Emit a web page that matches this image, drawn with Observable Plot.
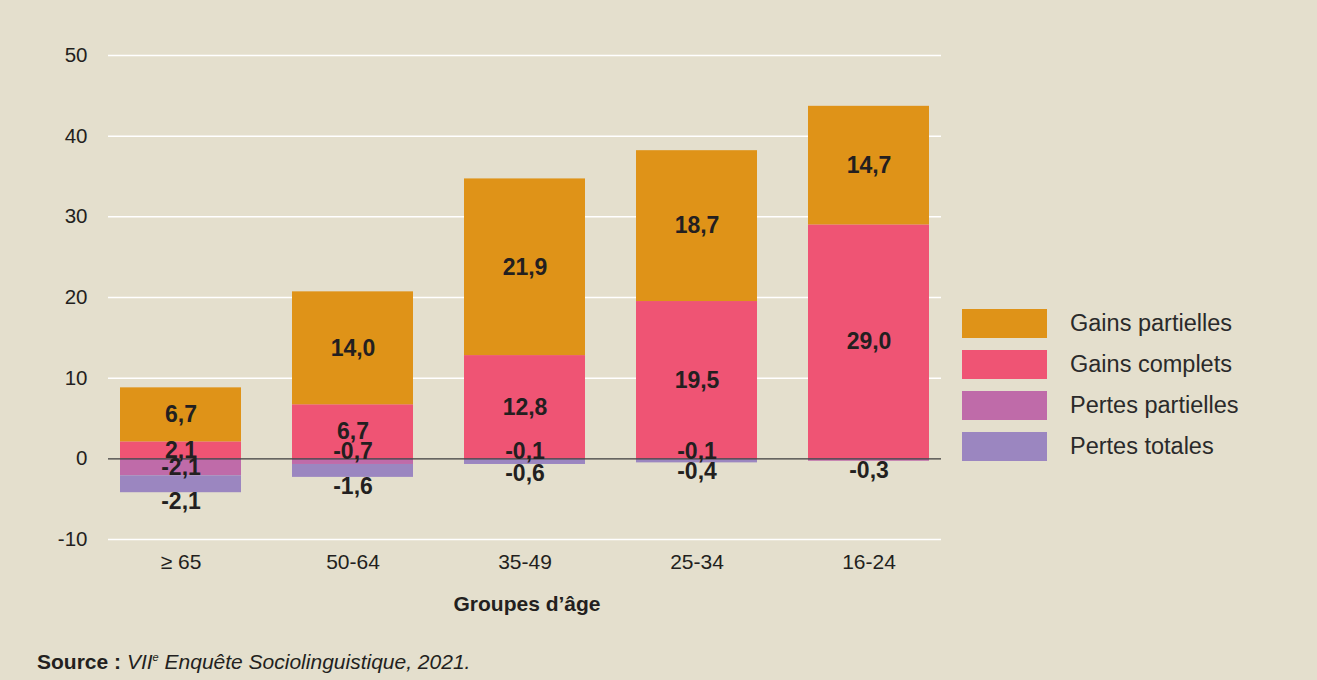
<!DOCTYPE html>
<html>
<head>
<meta charset="utf-8">
<script src="https://cdn.jsdelivr.net/npm/d3@7"></script>
<script src="https://cdn.jsdelivr.net/npm/@observablehq/plot@0.6"></script>
<style>
  html, body { margin: 0; padding: 0; background: #e4dfcd; }
  body { width: 1317px; height: 680px; position: relative; overflow: hidden; font-family: "Liberation Sans", Arial, sans-serif; color: #231f20; }
  #chart { position: absolute; left: 0; top: 0; }
  #legend { position: absolute; left: 962px; top: 309px; }
  .row { display: flex; align-items: center; height: 29px; margin-bottom: 12px; }
  .sw { width: 85px; height: 29px; }
  .lab { margin-left: 23px; font-size: 23.5px; color: #2a2a2a; white-space: nowrap; }
  #source { position: absolute; left: 37px; top: 650px; font-size: 21px; white-space: nowrap; color: #231f20; }
  #source sup { font-size: 11px; vertical-align: 8px; }
</style>
</head>
<body>
<div id="chart"></div>
<div id="legend"></div>
<div id="source"><b>Source :</b> <i>VII<sup>e</sup> Enquête Sociolinguistique, 2021.</i></div>
<script>
const groups = ["≥ 65", "50-64", "35-49", "25-34", "16-24"];
const gainsPartielles = [6.7, 14.0, 21.9, 18.7, 14.7];
const gainsComplets = [2.1, 6.7, 12.8, 19.5, 29.0];
const pertesPartielles = [-2.1, -0.7, -0.1, -0.1, -0.3];
const pertesTotales = [-2.1, -1.6, -0.6, -0.4, 0];
const yTicks = [-10, 0, 10, 20, 30, 40, 50];

const seriesNames = ["Gains partielles", "Gains complets", "Pertes partielles", "Pertes totales"];
const seriesColors = ["#df9318", "#ef5474", "#bf6ba9", "#9b86c0"];
const stackOrder = ["Gains complets", "Gains partielles", "Pertes partielles", "Pertes totales"];

const seriesValues = {
  "Gains partielles": gainsPartielles,
  "Gains complets": gainsComplets,
  "Pertes partielles": pertesPartielles,
  "Pertes totales": pertesTotales
};

const long = [];
groups.forEach((g, i) => {
  stackOrder.forEach(s => long.push({group: g, series: s, value: seriesValues[s][i]}));
});

const fmt = v => v.toFixed(1).replace(".", ",");

const centerLabels = [], aboveZero = [], belowStack = [];
groups.forEach((g, i) => {
  const gc = gainsComplets[i], gp = gainsPartielles[i];
  centerLabels.push({group: g, y: gc / 2, text: fmt(gc)});
  centerLabels.push({group: g, y: gc + gp / 2, text: fmt(gp)});
  const pp = pertesPartielles[i], pt = pertesTotales[i];
  if (pt !== 0) {
    if (Math.abs(pp) >= 1) centerLabels.push({group: g, y: pp / 2, text: fmt(pp)});
    else aboveZero.push({group: g, y: 0, text: fmt(pp)});
    belowStack.push({group: g, y: pp + pt, text: fmt(pt)});
  } else {
    belowStack.push({group: g, y: pp, text: fmt(pp)});
  }
});

const labelStyle = {x: "group", y: "y", text: "text", fontWeight: "bold", fontSize: 23, fill: "#231f20", fontFamily: "Liberation Sans, Arial, sans-serif"};

const chart = Plot.plot({
  width: 1317,
  height: 630,
  marginLeft: 108,
  marginRight: 376,
  marginTop: 55,
  marginBottom: 91,
  style: {background: "transparent", fontFamily: "Liberation Sans, Arial, sans-serif", color: "#231f20"},
  x: {domain: groups, paddingInner: 0.297, paddingOuter: 0.07, axis: null},
  y: {domain: [-10, 50], axis: null},
  color: {domain: seriesNames, range: seriesColors},
  marks: [
    Plot.gridY(yTicks.filter(d => d !== 0), {stroke: "#ffffff", strokeOpacity: 1, strokeWidth: 1.5}),
    Plot.axisY({ticks: yTicks, tickSize: 0, tickPadding: 21, fontSize: 20.5, tickFormat: d => String(d), label: null}),
    Plot.axisX({tickSize: 0, tickPadding: 15, fontSize: 21, label: null}),
    Plot.barY(long, {x: "group", y: "value", fill: "series", order: stackOrder}),
    Plot.ruleY([0], {stroke: "#3c3c3c", strokeWidth: 1.3}),
    Plot.text(centerLabels, labelStyle),
    Plot.text(aboveZero, {...labelStyle, dy: -7}),
    Plot.text(belowStack, {...labelStyle, dy: 9}),
    Plot.text(["Groupes d’âge"], {frameAnchor: "bottom", dy: 71, dx: 2, text: d => d, fontWeight: "bold", fontSize: 21, fill: "#231f20"})
  ]
});
document.getElementById("chart").appendChild(chart);

const legend = document.getElementById("legend");
seriesNames.forEach((s, i) => {
  const row = document.createElement("div");
  row.className = "row";
  row.innerHTML = `<div class="sw" style="background:${seriesColors[i]}"></div><div class="lab">${s}</div>`;
  legend.appendChild(row);
});
</script>
</body>
</html>
